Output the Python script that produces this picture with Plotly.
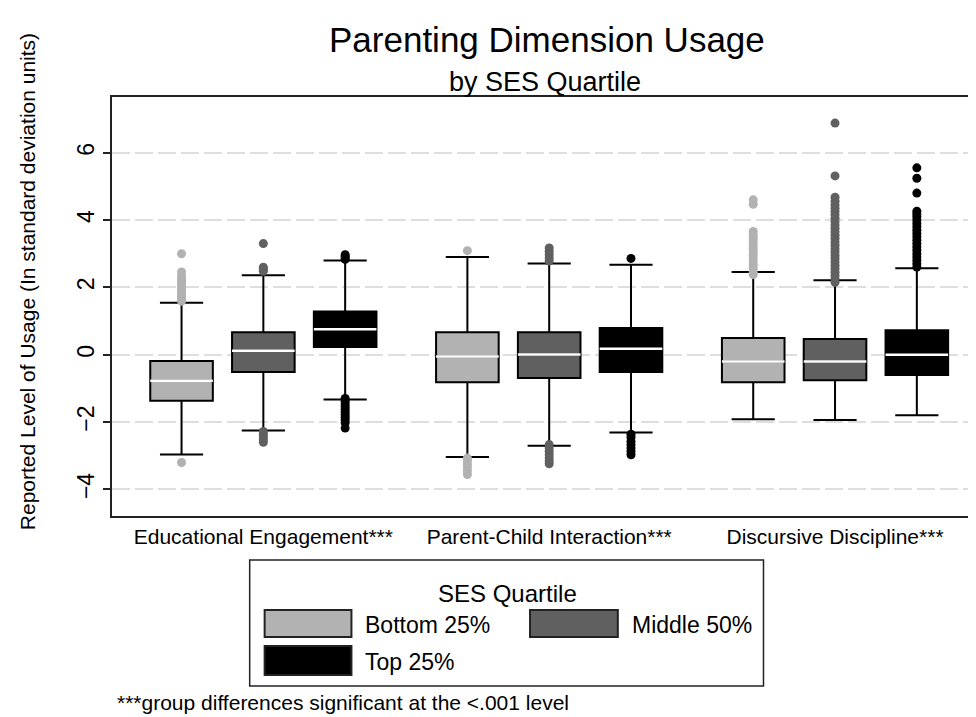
import plotly.graph_objects as go

# ---------------- data ----------------
categories = ["Educational Engagement***", "Parent-Child Interaction***", "Discursive Discipline***"]
series_names = ["Bottom 25%", "Middle 50%", "Top 25%"]
y_tick_values = [-4, -2, 0, 2, 4, 6]

bottom_q1 = [-1.37, -0.82, -0.82]
bottom_median = [-0.77, -0.05, -0.20]
bottom_q3 = [-0.19, 0.67, 0.50]
bottom_lower = [-2.96, -3.04, -1.92]
bottom_upper = [1.54, 2.90, 2.46]

middle_q1 = [-0.51, -0.69, -0.76]
middle_median = [0.12, 0.01, -0.20]
middle_q3 = [0.67, 0.67, 0.47]
middle_lower = [-2.25, -2.70, -1.94]
middle_upper = [2.36, 2.71, 2.21]

top_q1 = [0.23, -0.51, -0.60]
top_median = [0.76, 0.18, 0.00]
top_q3 = [1.28, 0.79, 0.73]
top_lower = [-1.33, -2.31, -1.80]
top_upper = [2.80, 2.67, 2.57]

bottom_outliers = [
    [3.00, 2.46, 2.33, 2.25, 2.18, 2.10, 2.02, 1.95, 1.88, 1.80, 1.73, 1.66, 1.59, -3.20],
    [3.09, -3.07, -3.15, -3.25, -3.35, -3.45, -3.56],
    [4.60, 4.47, 3.66, 3.55, 3.45, 3.35, 3.25, 3.15, 3.05, 2.95, 2.85, 2.75, 2.65, 2.55, 2.45, 2.38],
]
middle_outliers = [
    [3.30, 2.60, 2.54, 2.48, -2.28, -2.36, -2.44, -2.52, -2.60],
    [3.17, 3.07, 2.97, 2.87, 2.78, -2.67, -2.77, -2.87, -2.97, -3.07, -3.16, -3.24],
    [6.88, 5.31, 4.68, 4.56, 4.45, 4.35, 4.25, 4.15, 4.05, 3.95, 3.85, 3.75, 3.65, 3.55,
     3.45, 3.35, 3.25, 3.15, 3.05, 2.95, 2.85, 2.75, 2.65, 2.55, 2.45, 2.35, 2.25, 2.15],
]
top_outliers = [
    [2.97, 2.92, 2.87, 2.83, -1.30, -1.38, -1.46, -1.54, -1.62, -1.70, -1.78, -1.86, -1.94, -2.02, -2.18],
    [2.86, -2.36, -2.45, -2.57, -2.67, -2.77, -2.87, -2.97],
    [5.55, 5.24, 4.80, 4.26, 4.18, 4.10, 4.00, 3.90, 3.80, 3.70, 3.60, 3.50, 3.40, 3.30,
     3.20, 3.10, 3.00, 2.90, 2.80, 2.70, 2.60],
]

# ---------------- styling ----------------
W, H = 976, 717
ML, MR, MT, MB = 104, 6, 89, 209
FONT = "Liberation Sans, Arial, Helvetica, sans-serif"
colors = ["#b2b2b2", "#606060", "#000000"]
offsets = [-0.2862, 0.0, 0.2862]
box_width = 0.219
px_per_category = 286.5

stats = [
    (bottom_q1, bottom_median, bottom_q3, bottom_lower, bottom_upper, bottom_outliers),
    (middle_q1, middle_median, middle_q3, middle_lower, middle_upper, middle_outliers),
    (top_q1, top_median, top_q3, top_lower, top_upper, top_outliers),
]

plot_w = W - ML - MR
plot_h = H - MT - MB


def px_x(px):
    return (px - ML) / plot_w


def px_y(py):
    return (H - MB - py) / plot_h


fig = go.Figure()

for s, (q1, med, q3, lo, up, outs) in enumerate(stats):
    pos = [i + offsets[s] for i in range(len(categories))]
    fig.add_trace(go.Box(
        x=pos, q1=q1, median=med, q3=q3, lowerfence=lo, upperfence=up,
        width=box_width, fillcolor=colors[s], line=dict(color="black", width=2),
        whiskerwidth=0.69, boxpoints=False, name=series_names[s], showlegend=False,
    ))
    # white median line drawn on top of the box
    fig.add_trace(go.Box(
        x=pos, q1=med, median=med, q3=med, lowerfence=med, upperfence=med,
        width=box_width, fillcolor="rgba(0,0,0,0)", line=dict(color="white", width=2.5),
        whiskerwidth=0, boxpoints=False, showlegend=False, hoverinfo="skip",
    ))

for s, (q1, med, q3, lo, up, outs) in enumerate(stats):
    xs, ys = [], []
    for i, vals in enumerate(outs):
        xs += [i + offsets[s]] * len(vals)
        ys += vals
    fig.add_trace(go.Scatter(
        x=xs, y=ys, mode="markers", showlegend=False,
        marker=dict(color=colors[s], size=9, line=dict(width=0)),
    ))

y_top = 7.654
y_bot = -4.79
x_left = -0.5295
x_right = x_left + plot_w / px_per_category

fig.update_layout(
    width=W, height=H,
    margin=dict(l=ML, r=MR, t=MT, b=MB, pad=0),
    paper_bgcolor="white", plot_bgcolor="white",
    font=dict(family=FONT, color="black", size=21),
    showlegend=False,
    boxmode="overlay",
    xaxis=dict(
        range=[x_left, x_right], tickvals=[0, 1, 2], ticktext=categories,
        showgrid=False, zeroline=False, ticks="", ticklabelstandoff=1,
        tickfont=dict(size=21, family=FONT, color="black"),
        showline=True, mirror=True, linecolor="#222222", linewidth=1.5,
    ),
    yaxis=dict(
        range=[y_bot, y_top], tickvals=y_tick_values, tickangle=-90,
        ticks="outside", ticklen=7, tickwidth=1.5, tickcolor="#222222",
        tickfont=dict(size=23, family=FONT, color="black"),
        showgrid=True, gridcolor="#dedede", gridwidth=2, griddash="18px,5px",
        zeroline=False, showline=True, mirror=True, linecolor="#222222", linewidth=1.5,
    ),
)

annotations = [
    dict(text="Parenting Dimension Usage", x=px_x(540), y=px_y(32), font=dict(size=35)),
    dict(text="by SES Quartile", x=px_x(538), y=px_y(74), font=dict(size=27)),
    dict(text="Reported Level of Usage (In standard deviation units)", x=px_x(19), y=px_y(274),
         textangle=-90, font=dict(size=21)),
    dict(text="***group differences significant at the <.001 level", x=px_x(107), y=px_y(694),
         xanchor="left", font=dict(size=21)),
    dict(text="SES Quartile", x=px_x(500), y=px_y(585), font=dict(size=24)),
    dict(text=series_names[0], x=px_x(356), y=px_y(617), xanchor="left", font=dict(size=23)),
    dict(text=series_names[1], x=px_x(623), y=px_y(617), xanchor="left", font=dict(size=23)),
    dict(text=series_names[2], x=px_x(356), y=px_y(654), xanchor="left", font=dict(size=23)),
]
for a in annotations:
    a.setdefault("xanchor", "center")
    a.update(xref="paper", yref="paper", yanchor="middle", showarrow=False)
    a["font"] = dict(family=FONT, color="black", size=a["font"]["size"])
fig.update_layout(annotations=annotations)

shapes = [
    # legend frame
    dict(x0=px_x(242), x1=px_x(757), y0=px_y(552), y1=px_y(678),
         line=dict(color="#222222", width=1.5), fillcolor="rgba(0,0,0,0)"),
    # legend swatches
    dict(x0=px_x(257), x1=px_x(344), y0=px_y(602), y1=px_y(629),
         line=dict(color="#222222", width=2), fillcolor=colors[0]),
    dict(x0=px_x(523), x1=px_x(611), y0=px_y(602), y1=px_y(629),
         line=dict(color="#222222", width=2), fillcolor=colors[1]),
    dict(x0=px_x(257), x1=px_x(344), y0=px_y(638), y1=px_y(667),
         line=dict(color="#222222", width=2), fillcolor=colors[2]),
]
for sh in shapes:
    sh.update(type="rect", xref="paper", yref="paper", layer="above")
fig.update_layout(shapes=shapes)

fig.write_html("out.html")
